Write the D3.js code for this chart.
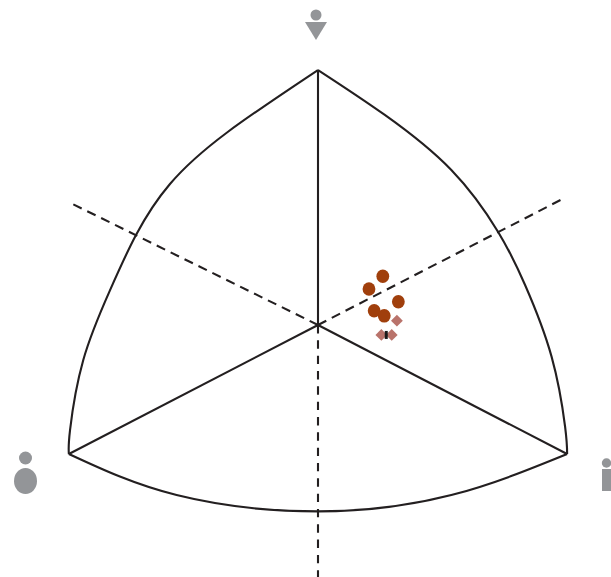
<!DOCTYPE html>
<html>
<head>
<meta charset="utf-8">
<script src="https://cdn.jsdelivr.net/npm/d3@7"></script>
<style>
  html, body { margin: 0; padding: 0; background: #fff; overflow: hidden; }
  svg { display: block; }
</style>
</head>
<body>
<script>
const svgWidth = 611;
const svgHeight = 577;

// Chart units: centre of the diagram is 0,0
const apex = [0, 100];
const leftCorner = [-86.5, -50.6];
const rightCorner = [86.5, -50.6];
const centre = [0, 0];

const leftArc = [apex, [-31.7, 75.4], [-51.4, 55.3], [-63.2, 35.3], [-72.2, 13.7], [-81.5, -13.7], [-86.1, -41.2], leftCorner];
const rightArc = [apex, [23.2, 82.4], [46.3, 60.8], [62.5, 36.6], [71.9, 15.7], [81.1, -12.4], [85.8, -39.9], rightCorner];
const bottomArc = [leftCorner, [-49.1, -66.7], [0, -73.1], [46.3, -66.7], rightCorner];

const dashEnds = [[-86.0, 47.9], [85.2, 49.6], [0, -100]];
const dashPatterns = ['9.3 6.2', '9.3 6.2', '8.4 6.93'];

const dotX = [22.5, 17.7, 27.9, 19.5, 23.0];
const dotY = [19.1, 14.1, 9.1, 5.6, 3.6];
const diamondX = [27.4, 22.0, 25.6];
const diamondY = [1.7, -3.9, -3.9];
const meanX = [23.7];
const meanY = [-3.9];

const lineColour = '#231f20';
const dotColour = '#a03f0c';
const diamondColour = '#b9736b';
const iconColour = '#939598';

const xScale = d3.scaleLinear().domain([-100, 100]).range([30, 606]);
const yScale = d3.scaleLinear().domain([-100, 100]).range([580, 70]);

const svg = d3.select('body').append('svg')
  .attr('width', svgWidth)
  .attr('height', svgHeight);

const curve = d3.line()
  .x(d => xScale(d[0]))
  .y(d => yScale(d[1]))
  .curve(d3.curveNatural);

// Outer arcs
svg.selectAll('path.arc')
  .data([leftArc, rightArc, bottomArc])
  .enter().append('path')
  .attr('class', 'arc')
  .attr('d', curve)
  .attr('fill', 'none')
  .attr('stroke', lineColour)
  .attr('stroke-width', 2.1);

// Solid spokes
svg.selectAll('line.spoke')
  .data([apex, leftCorner, rightCorner])
  .enter().append('line')
  .attr('class', 'spoke')
  .attr('x1', xScale(centre[0]))
  .attr('y1', yScale(centre[1]))
  .attr('x2', d => xScale(d[0]))
  .attr('y2', d => yScale(d[1]))
  .attr('stroke', lineColour)
  .attr('stroke-width', 2.1);

// Dashed spokes
svg.selectAll('line.dash')
  .data(dashEnds)
  .enter().append('line')
  .attr('class', 'dash')
  .attr('x1', xScale(centre[0]))
  .attr('y1', yScale(centre[1]))
  .attr('x2', d => xScale(d[0]))
  .attr('y2', d => yScale(d[1]))
  .attr('stroke', lineColour)
  .attr('stroke-width', 2.1)
  .attr('stroke-dasharray', (d, i) => dashPatterns[i]);

// Diamonds
svg.selectAll('path.diamond')
  .data(diamondX)
  .enter().append('path')
  .attr('class', 'diamond')
  .attr('d', d3.symbol(d3.symbolSquare, 70))
  .attr('transform', (d, i) => 'translate(' + xScale(d) + ',' + yScale(diamondY[i]) + ') rotate(45)')
  .attr('fill', diamondColour);

// Mean bar
svg.selectAll('rect.mean')
  .data(meanX)
  .enter().append('rect')
  .attr('class', 'mean')
  .attr('x', d => xScale(d) - 1.5)
  .attr('y', (d, i) => yScale(meanY[i]) - 4)
  .attr('width', 3)
  .attr('height', 8)
  .attr('fill', '#1a1a1a');

// Dots
svg.selectAll('ellipse.dot')
  .data(dotX)
  .enter().append('ellipse')
  .attr('class', 'dot')
  .attr('cx', d => xScale(d))
  .attr('cy', (d, i) => yScale(dotY[i]))
  .attr('rx', 6.4)
  .attr('ry', 6.8)
  .attr('fill', dotColour);

// Corner icons
const icons = svg.append('g').attr('fill', iconColour);

// top: head + triangle
icons.append('circle').attr('cx', 316).attr('cy', 15).attr('r', 5.5);
icons.append('path').attr('d', 'M305,22L327,22L316,40Z');

// left: head + round body
icons.append('circle').attr('cx', 25.5).attr('cy', 458).attr('r', 6.5);
icons.append('ellipse').attr('cx', 25.5).attr('cy', 481).attr('rx', 11.5).attr('ry', 13);

// right: head + bar, cut off by the page edge
icons.append('circle').attr('cx', 606.5).attr('cy', 463).attr('r', 4.7);
icons.append('rect').attr('x', 602).attr('y', 469).attr('width', 9).attr('height', 22);
</script>
</body>
</html>
